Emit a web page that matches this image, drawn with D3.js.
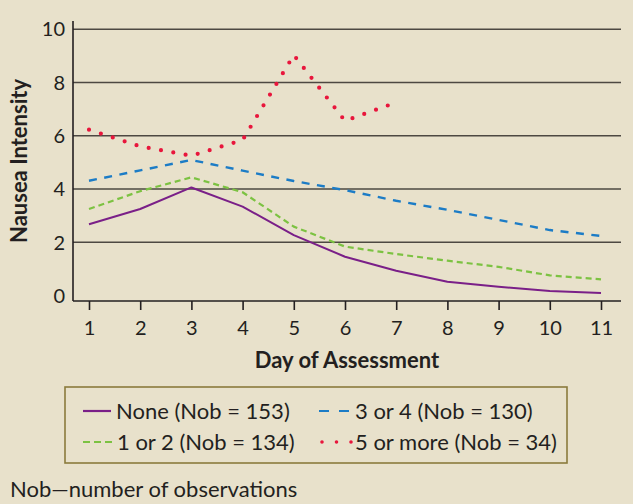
<!DOCTYPE html>
<html><head><meta charset="utf-8">
<script src="https://cdn.jsdelivr.net/npm/d3@7"></script>
<style>
html,body{margin:0;padding:0;background:#e8e1cb;}
svg{display:block;}
text{font-family:Lato,"Open Sans",sans-serif;fill:#231f20;}
</style></head>
<body>
<script>
const days = [1,2,3,4,5,6,7,8,9,10,11];
const yTicks = [0,2,4,6,8,10];
const seriesNames = ["None (Nob = 153)","1 or 2 (Nob = 134)","3 or 4 (Nob = 130)","5 or more (Nob = 34)"];
const noneVals = [2.68,3.25,4.06,3.34,2.27,1.46,0.93,0.52,0.33,0.17,0.10];
const oneTwoVals = [3.25,3.92,4.44,3.88,2.59,1.84,1.56,1.31,1.08,0.76,0.61];
const threeFourVals = [4.31,4.70,5.09,4.69,4.30,3.96,3.56,3.22,2.84,2.46,2.24];
const fivePlusVals = [6.23,5.60,5.25,5.84,9.03,6.56,7.25];
const xLabel = "Day of Assessment";
const yLabel = "Nausea Intensity";
const footnote = "Nob\u2014number of observations";

const W = 633, H = 504;
const svg = d3.select("body").append("svg").attr("width",W).attr("height",H);
svg.append("rect").attr("width",W).attr("height",H).attr("fill","#e8e1cb");

const x = d3.scaleLinear().domain([1,11]).range([89,601]);
const y = d3.scaleLinear().domain([0,10]).range([295.6,29.2]);
const left = 73, right = 621, axisY = 301;

// gridlines
svg.append("g").selectAll("line").data(yTicks.filter(d=>d>0)).join("line")
  .attr("x1",left).attr("x2",right).attr("y1",d=>y(d)).attr("y2",d=>y(d))
  .attr("stroke","#4d4842").attr("stroke-width",1.6);

// y axis
svg.append("line").attr("x1",left).attr("x2",left).attr("y1",21).attr("y2",axisY)
  .attr("stroke","#231f20").attr("stroke-width",1.6);
svg.append("g").selectAll("text").data(yTicks).join("text")
  .attr("x",65).attr("y",d=>y(d)).attr("dy","0.36em").attr("text-anchor","end")
  .attr("font-size",20).attr("fill","#2b2724").text(d=>d);

// x axis
const xAxis = svg.append("g").attr("transform",`translate(0,${axisY})`)
  .call(d3.axisBottom(x).tickValues(days).tickSize(9).tickPadding(11).tickFormat(d3.format("d")));
xAxis.select(".domain").attr("d",`M${left},0H${right}`).attr("stroke","#231f20").attr("stroke-width",1.6);
xAxis.selectAll(".tick line").attr("stroke","#231f20").attr("stroke-width",1.6);
xAxis.selectAll(".tick text").attr("font-size",20).attr("font-family","Lato,sans-serif").attr("fill","#2b2724");

// labels
svg.append("text").attr("x",347).attr("y",368).attr("text-anchor","middle")
  .attr("font-size",22).attr("font-weight","bold").text(xLabel);
svg.append("text").attr("transform","translate(27,161) rotate(-90)")
  .attr("text-anchor","middle").attr("font-size",22).attr("font-weight","bold").text(yLabel);

// series
const styles = [
  {vals:noneVals, color:"#7a1f88", dash:null, w:2, cap:"butt"},
  {vals:oneTwoVals, color:"#7cc242", dash:"6 4", w:2.2, cap:"butt"},
  {vals:threeFourVals, color:"#1c7cc6", dash:"8 7.5", w:2.4, cap:"butt"},
  {vals:fivePlusVals, color:"#e8163c", dash:"0 12.5", w:4.2, cap:"round"}
];
const line = d3.line().x((d,i)=>x(days[i])).y(d=>y(d));
styles.forEach(s=>{
  svg.append("path").datum(s.vals).attr("d",line).attr("fill","none")
    .attr("stroke",s.color).attr("stroke-width",s.w).attr("stroke-linecap",s.cap)
    .attr("stroke-linejoin","round").attr("stroke-dasharray",s.dash);
});

// legend
svg.append("rect").attr("x",65).attr("y",387).attr("width",502).attr("height",76)
  .attr("fill","none").attr("stroke","#8a7b3c").attr("stroke-width",1.6);
const legPos = [
  {x1:83,x2:111,tx:116,y:411},
  {x1:83,x2:112,tx:117,y:442},
  {x1:319,x2:349,tx:355,y:411},
  {x1:322,x2:352,tx:355,y:442}
];
const legDash = [null,"7 4","10 10","0 14.5"];
styles.forEach((s,i)=>{
  const p = legPos[i];
  svg.append("line").attr("x1",p.x1).attr("x2",p.x2).attr("y1",p.y).attr("y2",p.y)
    .attr("stroke",s.color).attr("stroke-width",i===3?3.6:2.2).attr("stroke-linecap",s.cap)
    .attr("stroke-dasharray",legDash[i]);
  svg.append("text").attr("x",p.tx).attr("y",p.y).attr("dy","0.36em").attr("font-size",22)
    .text(seriesNames[i]);
});

svg.append("text").attr("x",10).attr("y",497).attr("font-size",22).text(footnote);
</script>
</body></html>
